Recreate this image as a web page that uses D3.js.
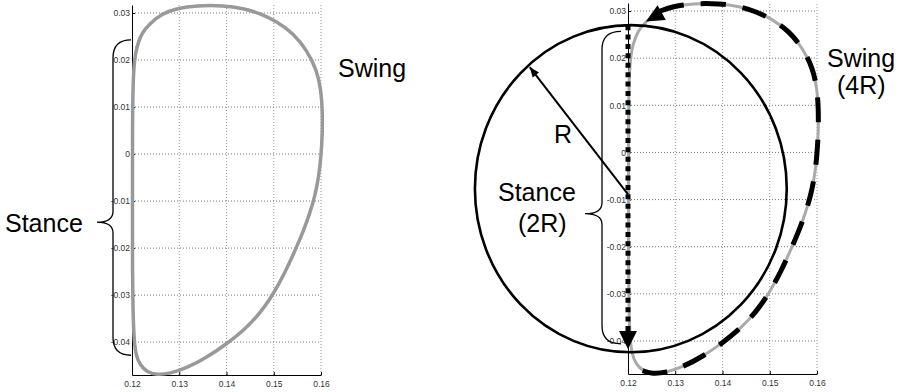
<!DOCTYPE html>
<html>
<head>
<meta charset="utf-8">
<script src="https://cdn.jsdelivr.net/npm/d3@7"></script>
<style>
  html, body { margin: 0; padding: 0; background: #fff; }
  svg { display: block; }
</style>
</head>
<body>
<svg id="chart" width="905" height="392"></svg>
<script>
// Axis ticks shared by both panels
const xTicks = [0.12, 0.13, 0.14, 0.15, 0.16];
const xTickLabels = ["0.12", "0.13", "0.14", "0.15", "0.16"];
const yTicks = [0.03, 0.02, 0.01, 0, -0.01, -0.02, -0.03, -0.04];
const yTickLabels = ["0.03", "0.02", "0.01", "0", "-0.01", "-0.02", "-0.03", "-0.04"];
const xDomain = [0.12, 0.16];
const yDomain = [-0.047, 0.0317];

// Foot trajectory loop (x, y), starting at the top of the stance phase
const loopX = [0.1205, 0.1202, 0.1201, 0.1201, 0.1201, 0.1201, 0.1202, 0.1204, 0.1208, 0.1217,
               0.1231, 0.1252, 0.1280, 0.1316, 0.1358, 0.1400, 0.1440, 0.1472, 0.1498, 0.1524,
               0.1547, 0.1563, 0.1576, 0.1587, 0.1595, 0.1600, 0.1603, 0.1603, 0.1600, 0.1591,
               0.1570, 0.1541, 0.1506, 0.1471, 0.1436, 0.1393, 0.1337, 0.1295, 0.1263, 0.1238,
               0.1220, 0.1210];
const loopY = [0.0200, 0.0150, 0.0050, -0.0050, -0.0150, -0.0250, -0.0330, -0.0390, -0.0428, -0.0449,
               -0.0463, -0.0470, -0.0467, -0.0455, -0.0433, -0.0404, -0.0372, -0.0337, -0.0300, -0.0252,
               -0.0201, -0.0163, -0.0127, -0.0090, -0.0050, -0.0006, 0.0044, 0.0094, 0.0136, 0.0179,
               0.0221, 0.0257, 0.0282, 0.0299, 0.0310, 0.0316, 0.0316, 0.0310, 0.0298, 0.0278,
               0.0257, 0.0228];

// Swing phase: the stretch of the loop between these indices (dashed, ends in an arrow)
const swingRange = [10, 39];

// Stance phase straight path (top, arrow tip)
const stanceLine = [0.027, -0.0417];
// Reference circle of radius R
const circleCenter = [0.1206, -0.0077];
const circleRadii = [0.0330, 0.0347];
// Radius arrow: from near the center to the rim
const radiusFrom = [0.1200, -0.0089];
const radiusTo = [0.0992, 0.0181];
// Brace extents (top, tip, bottom) in data units
const braceLeft = [0.0243, -0.0145, -0.0428];
const braceRight = [0.0257, -0.0130, -0.0406];

const svg = d3.select("#chart");
const FONT = '"Liberation Sans", Arial, Helvetica, sans-serif';

function makePanel(x0, x1, yTop, yBot) {
  const x = d3.scaleLinear().domain(xDomain).range([x0, x1]);
  const y = d3.scaleLinear().domain(yDomain).range([yBot, yTop]);
  const g = svg.append("g");

  // dotted grid
  g.append("g").selectAll("line").data(xTicks.slice(1)).join("line")
    .attr("x1", d => x(d)).attr("x2", d => x(d))
    .attr("y1", y(yDomain[0])).attr("y2", y(yDomain[1]))
    .attr("stroke", "#999").attr("stroke-width", 1).attr("stroke-dasharray", "1,2");
  g.append("g").selectAll("line").data(yTicks).join("line")
    .attr("x1", x(xDomain[0])).attr("x2", x(xDomain[1]))
    .attr("y1", d => y(d)).attr("y2", d => y(d))
    .attr("stroke", "#777").attr("stroke-width", 1).attr("stroke-dasharray", "1,2");

  // axes
  const xAxis = d3.axisBottom(x).tickValues(xTicks)
    .tickFormat((d, i) => xTickLabels[i]).tickSizeInner(-3).tickSizeOuter(0).tickPadding(6);
  const yAxis = d3.axisLeft(y).tickValues(yTicks)
    .tickFormat((d, i) => yTickLabels[i]).tickSizeInner(-3).tickSizeOuter(0).tickPadding(2);
  const gx = g.append("g").attr("transform", `translate(0,${y(yDomain[0])})`).call(xAxis);
  const gy = g.append("g").attr("transform", `translate(${x(xDomain[0])},0)`).call(yAxis);
  [gx, gy].forEach(a => {
    a.select(".domain").attr("stroke", "#000").attr("stroke-width", 1);
    a.selectAll(".tick line").attr("stroke", "#000");
    a.selectAll(".tick text").attr("fill", "#333").attr("font-size", 8.5).attr("font-family", FONT);
  });
  return { g, x, y };
}

function brace(g, xv, xEnd, xTip, yt, ytip, yb) {
  const r = 18, r2 = 11;
  const p = d3.path();
  p.moveTo(xEnd, yt);
  p.quadraticCurveTo(xv, yt, xv, yt + r);
  p.lineTo(xv, ytip - r2);
  p.quadraticCurveTo(xv, ytip, xTip, ytip);
  p.quadraticCurveTo(xv, ytip, xv, ytip + r2);
  p.lineTo(xv, yb - r);
  p.quadraticCurveTo(xv, yb, xEnd, yb);
  g.append("path").attr("d", p.toString()).attr("fill", "none")
    .attr("stroke", "#000").attr("stroke-width", 1.3);
}

function arrowHead(g, tip, from, len, half) {
  const dx = tip[0] - from[0], dy = tip[1] - from[1];
  const L = Math.hypot(dx, dy), ux = dx / L, uy = dy / L;
  const bx = tip[0] - ux * len, by = tip[1] - uy * len;
  const pts = [tip, [bx - uy * half, by + ux * half], [bx + uy * half, by - ux * half]];
  g.append("polygon").attr("points", pts.map(p => p.join(",")).join(" ")).attr("fill", "#000");
}

function label(g, lines, x, y0, dy) {
  lines.forEach((t, i) => {
    g.append("text").attr("x", x[i]).attr("y", y0 + i * dy)
      .attr("font-family", FONT).attr("font-size", 25).attr("fill", "#000").text(t);
  });
}

const loopIdx = d3.range(loopX.length);

// ---- Left panel: trajectory alone ----
{
  const { g, x, y } = makePanel(132, 321, 5, 375);
  const line = d3.line().x(i => x(loopX[i])).y(i => y(loopY[i])).curve(d3.curveBasisClosed);
  g.append("path").attr("d", line(loopIdx)).attr("fill", "none")
    .attr("stroke", "#999").attr("stroke-width", 3.5);
  brace(g, 113, 131, 97, y(braceLeft[0]), y(braceLeft[1]), y(braceLeft[2]));
  label(g, ["Stance"], [5], 232, 0);
  label(g, ["Swing"], [338], 77, 0);
}

// ---- Right panel: trajectory with the circle model ----
{
  const { g, x, y } = makePanel(628, 817, 3, 374);
  const line = d3.line().x(i => x(loopX[i])).y(i => y(loopY[i])).curve(d3.curveBasisClosed);
  g.append("path").attr("d", line(loopIdx)).attr("fill", "none")
    .attr("stroke", "#aaa").attr("stroke-width", 3);

  // circle of radius R
  const cx = x(circleCenter[0]), cy = y(circleCenter[1]);
  g.append("ellipse").attr("cx", cx).attr("cy", cy)
    .attr("rx", x(circleCenter[0] + circleRadii[0]) - cx)
    .attr("ry", cy - y(circleCenter[1] + circleRadii[1]))
    .attr("fill", "none").attr("stroke", "#000").attr("stroke-width", 2.6);

  // radius arrow
  const rFrom = [x(radiusFrom[0]), y(radiusFrom[1])];
  const rTo = [x(radiusTo[0]), y(radiusTo[1])];
  g.append("line").attr("x1", rFrom[0]).attr("y1", rFrom[1]).attr("x2", rTo[0]).attr("y2", rTo[1])
    .attr("stroke", "#000").attr("stroke-width", 2);
  arrowHead(g, rTo, rFrom, 10, 4);

  // swing path, dashed, following the loop
  const sIdx = d3.range(swingRange[0], swingRange[1] + 1);
  const sLine = d3.line().x(i => x(loopX[i])).y(i => y(loopY[i])).curve(d3.curveBasis);
  g.append("path").attr("d", sLine(sIdx.slice(0, -1))).attr("fill", "none")
    .attr("stroke", "#000").attr("stroke-width", 5).attr("stroke-dasharray", "25,17");
  const e = swingRange[1];
  arrowHead(g, [x(loopX[e]), y(loopY[e])], [x(loopX[e - 2]), y(loopY[e - 2])], 18, 8.5);

  // stance path, dotted, with arrow
  const sx = x(xDomain[0]);
  const tipY = y(stanceLine[1]);
  g.append("line").attr("x1", sx).attr("x2", sx)
    .attr("y1", y(stanceLine[0])).attr("y2", tipY - 14)
    .attr("stroke", "#000").attr("stroke-width", 5).attr("stroke-dasharray", "5,4.4");
  arrowHead(g, [sx, tipY], [sx, tipY - 30], 18, 9);

  brace(g, 602, 621, 585, y(braceRight[0]), y(braceRight[1]), y(braceRight[2]));

  label(g, ["R"], [554], 143, 0);
  label(g, ["Stance", "(2R)"], [498, 518], 201, 31);
  label(g, ["Swing", "(4R)"], [827, 837], 67, 27);
}
</script>
</body>
</html>
